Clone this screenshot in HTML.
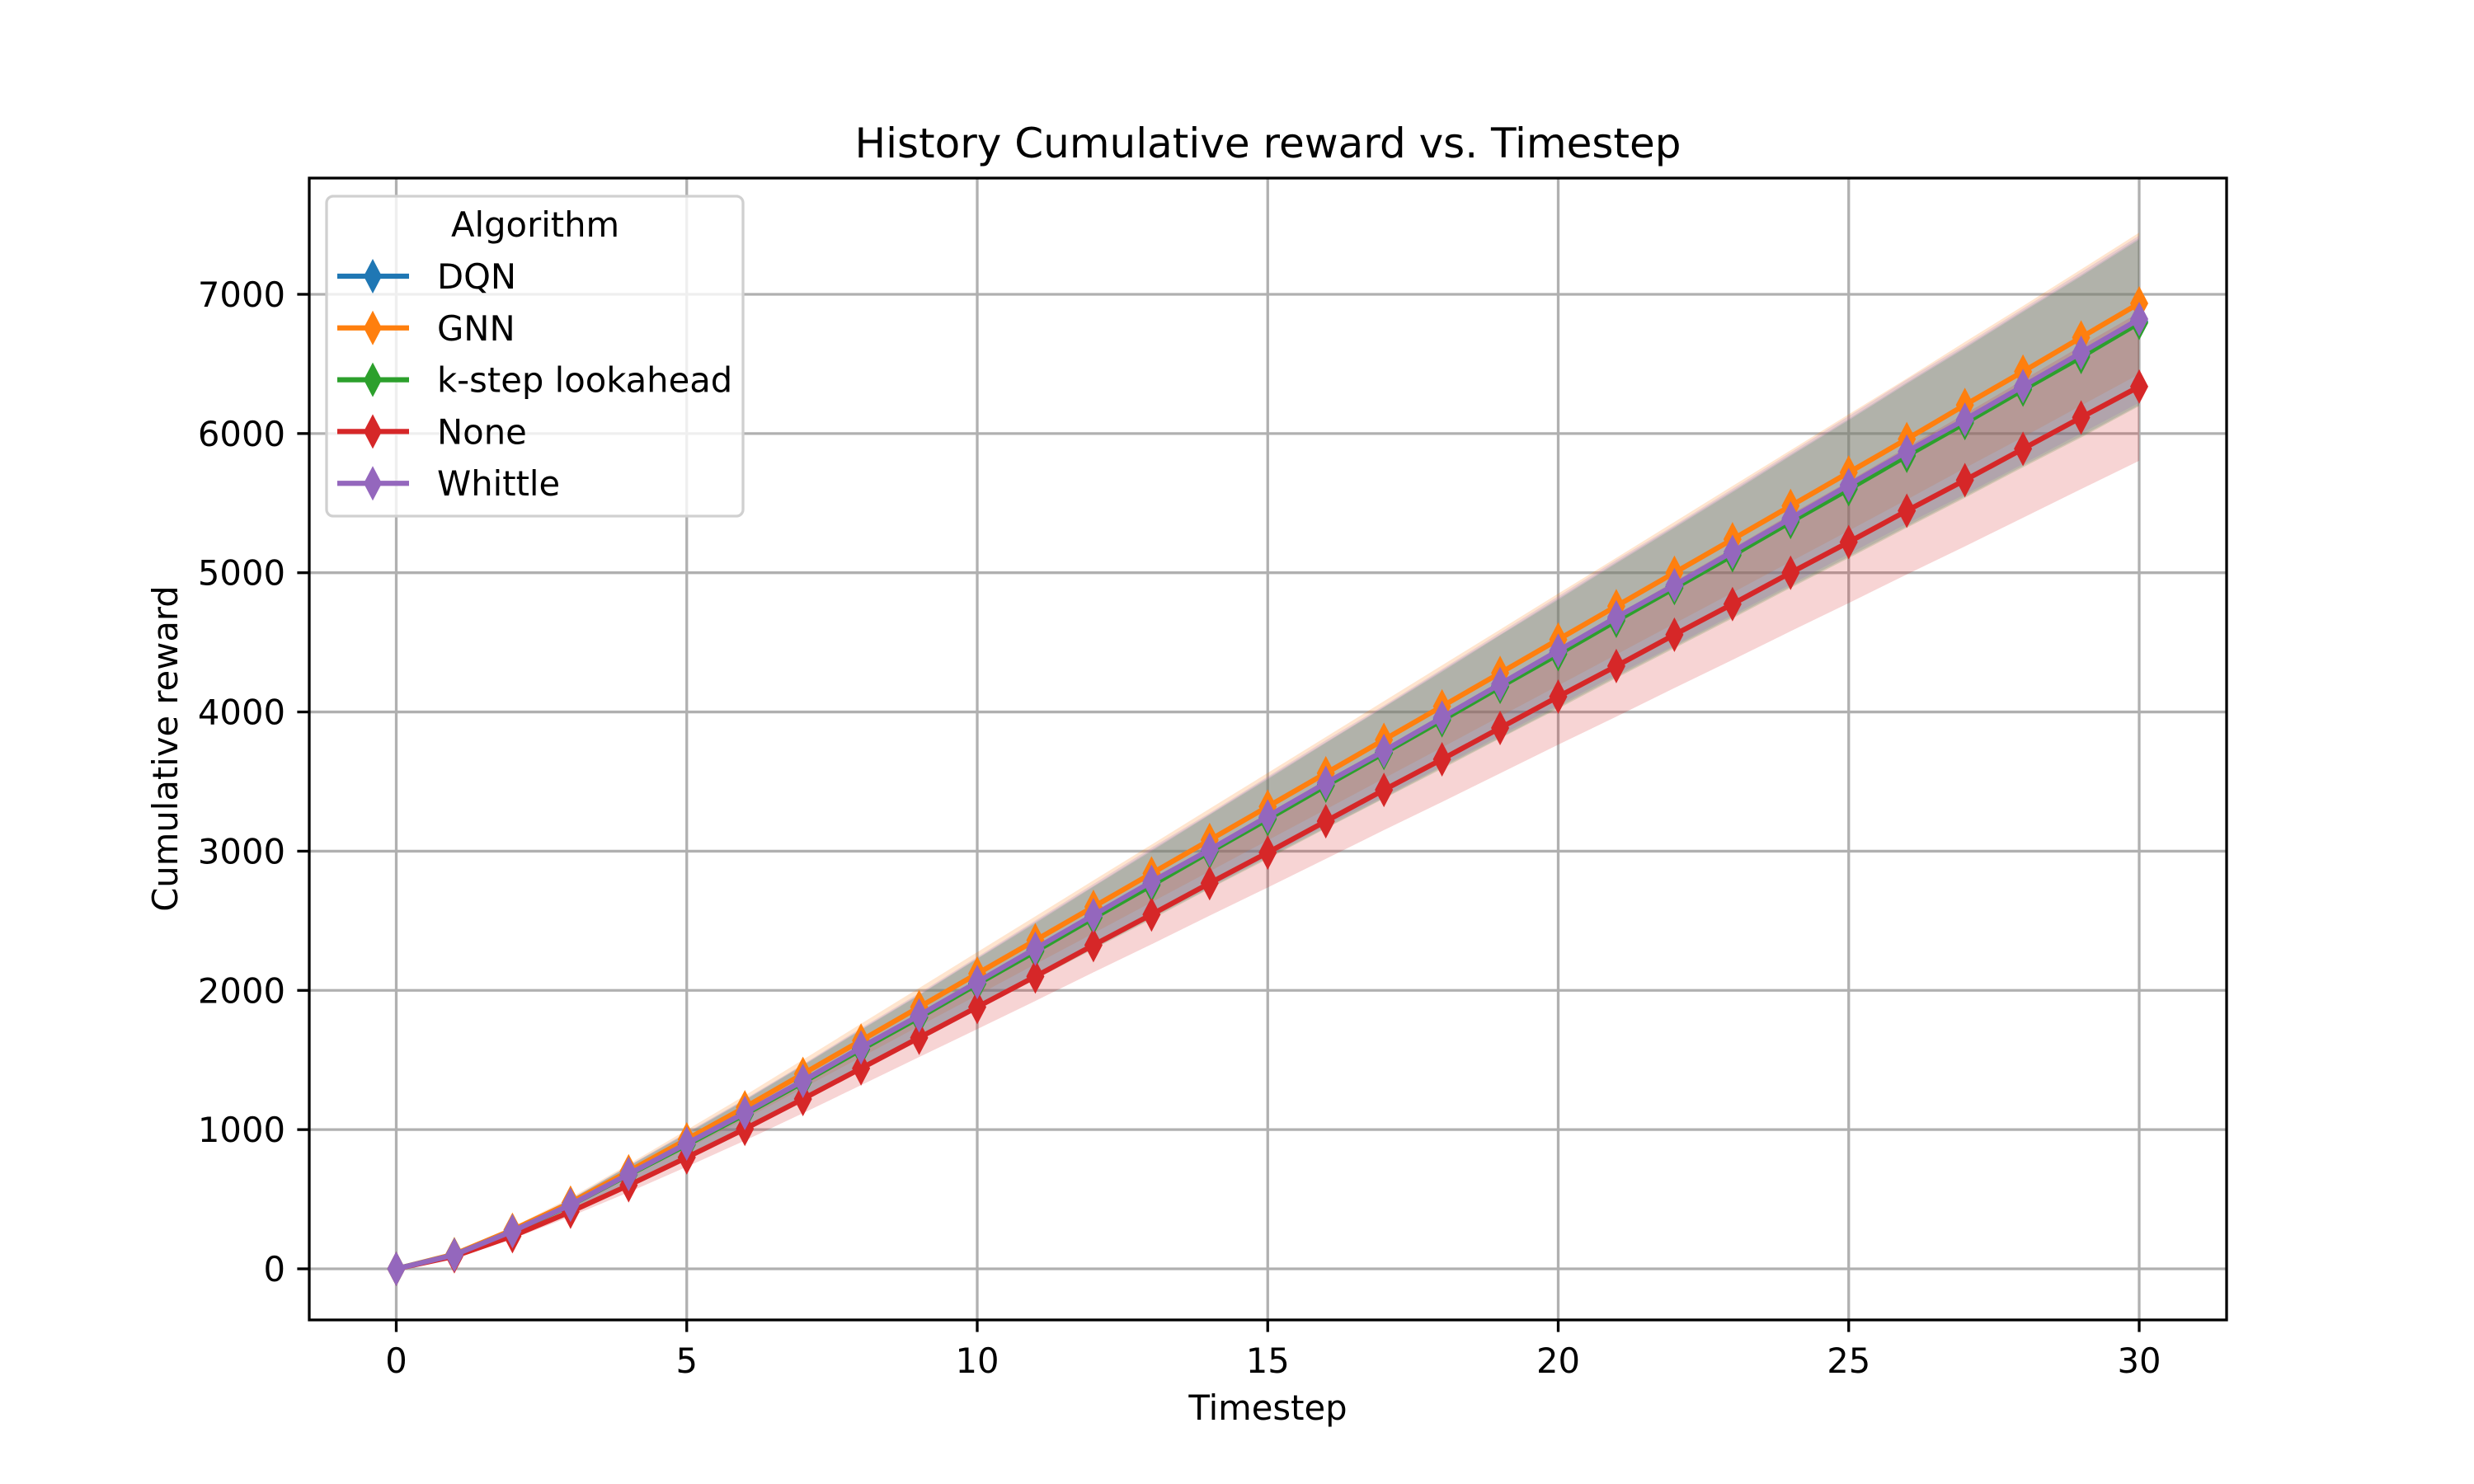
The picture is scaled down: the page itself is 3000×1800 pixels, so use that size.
<!DOCTYPE html>
<html><head><meta charset="utf-8"><style>
html,body{margin:0;padding:0;background:#fff}
svg{display:block;font-family:"DejaVu Sans","Liberation Sans",sans-serif}
</style></head><body>
<svg id="chart" width="3000" height="1800" viewBox="0 0 3000 1800"></svg>
<script>
const timesteps=[0,1,2,3,4,5,6,7,8,9,10,11,12,13,14,15,16,17,18,19,20,21,22,23,24,25,26,27,28,29,30];
const seriesNames=["DQN","GNN","k-step lookahead","None","Whittle"];
const dqnMean=[0,100,270,460,680,895,1115,1345,1580,1810,2050,2290,2525,2765,3000,3240,3475,3710,3950,4185,4425,4665,4900,5135,5375,5610,5850,6085,6325,6560,6805];
const gnnMean=[0,105,280,475,700,930,1160,1400,1640,1880,2120,2360,2600,2840,3080,3320,3560,3800,4040,4280,4520,4760,5000,5240,5480,5720,5960,6205,6445,6690,6935];
const kstepMean=[0,100,268,458,675,890,1110,1340,1575,1805,2045,2280,2520,2755,2995,3230,3470,3705,3940,4180,4415,4655,4890,5125,5365,5600,5840,6075,6315,6550,6795];
const noneMean=[0,90,235,410,600,800,1005,1220,1440,1660,1880,2100,2325,2545,2770,2990,3215,3440,3660,3885,4110,4330,4555,4775,5000,5220,5445,5665,5890,6115,6337];
const whittleMean=[0,100,270,460,680,900,1120,1350,1590,1820,2060,2300,2540,2780,3010,3250,3490,3720,3960,4200,4440,4680,4910,5150,5390,5630,5870,6100,6340,6580,6822];
const dqnStd=[0,9,24,40,60,79,99,119,140,160,181,202,224,245,265,286,307,327,348,370,391,412,432,453,474,495,517,537,558,579,600];
const gnnStd=[0,8,20,35,51,68,85,102,120,137,155,172,190,207,225,242,260,277,295,312,330,347,365,383,400,418,435,453,471,489,508];
const kstepStd=[0,9,24,40,60,79,99,119,140,160,181,202,224,245,265,286,307,327,348,370,391,412,432,453,474,495,517,537,558,579,598];
const noneStd=[0,8,20,34,50,67,84,102,121,139,158,176,195,214,233,251,270,289,307,326,345,364,383,401,420,438,457,476,495,514,533];
const whittleStd=[0,9,24,40,60,79,99,119,140,160,181,202,224,245,265,286,307,327,348,370,391,412,432,453,474,495,517,537,558,579,600];
const xTicks=[0,5,10,15,20,25,30];
const yTicks=[0,1000,2000,3000,4000,5000,6000,7000];

const colors=["#1f77b4","#ff7f0e","#2ca02c","#d62728","#9467bd"];
const means=[dqnMean,gnnMean,kstepMean,noneMean,whittleMean];
const stds=[dqnStd,gnnStd,kstepStd,noneStd,whittleStd];
const L=375,R=2700,T=216,B=1601;
const X=v=>480.5+v*70.45;
const Y=v=>1539-v*0.16886;
const svg=document.getElementById('chart');
const NS="http://www.w3.org/2000/svg";
function mk(tag,attrs,parent){const e=document.createElementNS(NS,tag);for(const k in attrs)e.setAttribute(k,attrs[k]);(parent||svg).appendChild(e);return e;}

const clip=mk('clipPath',{id:'clip'});mk('rect',{x:L,y:T,width:R-L,height:B-T},clip);
const grid=mk('g',{});


xTicks.forEach(t=>{const l=mk('line',{x1:X(t),x2:X(t),y1:T,y2:B,stroke:'#b0b0b0','stroke-width':3.3},grid);

});
yTicks.forEach(t=>{const l=mk('line',{x1:L,x2:R,y1:Y(t),y2:Y(t),stroke:'#b0b0b0','stroke-width':3.3},grid);

});

const plot=mk('g',{'clip-path':'url(#clip)'});
means.forEach((m,i)=>{
  const s=stds[i];
  let d='';
  timesteps.forEach((t,j)=>{d+=(j?'L':'M')+X(t)+','+Y(m[j]+s[j]);});
  for(let j=timesteps.length-1;j>=0;j--)d+='L'+X(timesteps[j])+','+Y(m[j]-s[j]);
  const band=mk('path',{d:d+'Z',fill:colors[i],'fill-opacity':0.2,stroke:'none'},plot);
  
  
});
means.forEach((m,i)=>{
  const g=mk('g',{},plot);
  
  
  const pts=timesteps.map((t,j)=>X(t)+','+Y(m[j])).join(' ');
  const pl=mk('polyline',{points:pts,fill:'none',stroke:colors[i],'stroke-width':6.25,'stroke-linejoin':'round'},g);
  
  
  timesteps.forEach((t,j)=>{const cx=X(t),cy=Y(m[j]);
    const p=mk('polygon',{points:`${cx},${cy-21} ${cx+11},${cy} ${cx},${cy+21} ${cx-11},${cy}`,fill:colors[i]},g);
    
    });
});

const frame=mk('rect',{x:L,y:T,width:R-L,height:B-T,fill:'none',stroke:'#000','stroke-width':3.3});


xTicks.forEach(t=>{mk('line',{x1:X(t),x2:X(t),y1:B,y2:B+14.6,stroke:'#000','stroke-width':3.3});
  const tx=mk('text',{x:X(t),y:B+64,'font-size':41.7,'text-anchor':'middle'});tx.textContent=t;
  
  });
yTicks.forEach(t=>{mk('line',{x1:L-14.6,x2:L,y1:Y(t),y2:Y(t),stroke:'#000','stroke-width':3.3});
  const tx=mk('text',{x:L-29,y:Y(t)+15,'font-size':41.7,'text-anchor':'end'});tx.textContent=t;
  
  });
</script>
<script>
(function(){
const svg=document.getElementById('chart');const NS="http://www.w3.org/2000/svg";
function mk(tag,attrs,parent){const e=document.createElementNS(NS,tag);for(const k in attrs)e.setAttribute(k,attrs[k]);(parent||svg).appendChild(e);return e;}
let t=mk('text',{x:1537.5,y:191,'font-size':50,'text-anchor':'middle'});t.textContent='History Cumulative reward vs. Timestep';


t=mk('text',{x:1537.5,y:1722,'font-size':41.7,'text-anchor':'middle'});t.textContent='Timestep';


t=mk('text',{x:215,y:908,'font-size':41.7,'text-anchor':'middle',transform:'rotate(-90 215 908)'});t.textContent='Cumulative reward';


const lg=mk('g',{});


mk('rect',{x:396,y:238,width:505,height:388,rx:8,fill:'#fff','fill-opacity':0.8,stroke:'#d0d0d0','stroke-width':3.3},lg);
t=mk('text',{x:547,y:287,'font-size':41.7},lg);t.textContent='Algorithm';


const names=["DQN","GNN","k-step lookahead","None","Whittle"];
const cols=["#1f77b4","#ff7f0e","#2ca02c","#d62728","#9467bd"];
names.forEach((n,i)=>{const y=335+i*62.8;
  const e=mk('g',{},lg);
  
  
  mk('line',{x1:409,x2:496,y1:y,y2:y,stroke:cols[i],'stroke-width':6.25},e);
  mk('polygon',{points:`452,${y-21} 463,${y} 452,${y+21} 441,${y}`,fill:cols[i]},e);
  const tx=mk('text',{x:530,y:y+15,'font-size':41.7},e);tx.textContent=n;});
})();
</script>
</body></html>
